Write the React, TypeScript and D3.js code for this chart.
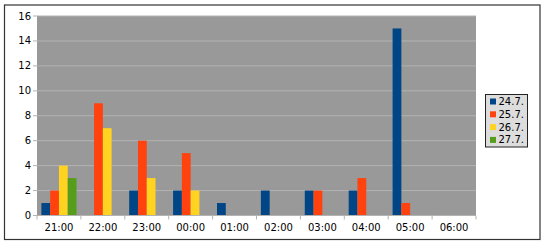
import React from "react";
import * as d3 from "d3";

const categories = ["21:00", "22:00", "23:00", "00:00", "01:00", "02:00", "03:00", "04:00", "05:00", "06:00"];
const seriesNames = ["24.7.", "25.7.", "26.7.", "27.7."];
const s24 = [1, 0, 2, 2, 1, 2, 2, 2, 15, 0];
const s25 = [2, 9, 6, 5, 0, 0, 2, 3, 1, 0];
const s26 = [4, 7, 3, 2, 0, 0, 0, 0, 0, 0];
const s27 = [3, 0, 0, 0, 0, 0, 0, 0, 0, 0];
const yTicks = [0, 2, 4, 6, 8, 10, 12, 14, 16];
const colors = ["#004586", "#ff420e", "#ffd320", "#579d1c"];

const seriesValues = [s24, s25, s26, s27];

export default function App() {
  const W = 548, H = 248;
  const left = 37, right = 476, top = 16, bottom = 215.5;
  const x0 = d3.scaleBand<string>().domain(categories).range([left, right]).padding(0);
  const bw = x0.bandwidth();
  const x1 = d3.scaleBand<string>().domain(seriesNames).range([bw * 0.1, bw * 0.9]).padding(0);
  const y = d3.scaleLinear().domain([0, 16]).range([bottom, top]);
  const font = "DejaVu Sans, sans-serif";

  return (
    <svg width={W} height={H} style={{ position: "absolute", left: 0, top: 0, display: "block" }}>
      <rect x={0} y={0} width={W} height={H} fill="#ffffff" />
      <rect x={4.5} y={5} width={535.5} height={234.5} fill="#ffffff" stroke="#333333" strokeWidth={1.2} />
      <rect x={left} y={top} width={right - left} height={bottom - top} fill="#999999" />
      {yTicks.map((t) => (
        <g key={"g" + t}>
          <line x1={left} x2={right} y1={y(t)} y2={y(t)} stroke="#b3b3b3" strokeWidth={1} />
          <line x1={left - 4} x2={left} y1={y(t)} y2={y(t)} stroke="#b3b3b3" strokeWidth={1} />
          <text x={left - 6} y={y(t)} dy="0.35em" textAnchor="end" fontFamily={font} fontSize={10} fill="#000">
            {t}
          </text>
        </g>
      ))}
      {seriesValues.map((vals, si) =>
        vals.map((v, ci) =>
          v > 0 ? (
            <rect
              key={si + "-" + ci}
              x={(x0(categories[ci]) as number) + (x1(seriesNames[si]) as number)}
              y={y(v)}
              width={x1.bandwidth()}
              height={y(0) - y(v)}
              fill={colors[si]}
            />
          ) : null
        )
      )}
      <line x1={left} x2={right} y1={bottom} y2={bottom} stroke="#b3b3b3" strokeWidth={1} />
      {categories.map((c, i) => (
        <g key={"x" + c}>
          <line x1={(x0(c) as number)} x2={(x0(c) as number)} y1={bottom} y2={bottom + 4} stroke="#b3b3b3" strokeWidth={1} />
          <text x={(x0(c) as number) + bw / 2} y={bottom + 12} dy="0.35em" textAnchor="middle" fontFamily={font} fontSize={10} fill="#000">
            {c}
          </text>
        </g>
      ))}
      <line x1={right} x2={right} y1={bottom} y2={bottom + 4} stroke="#b3b3b3" strokeWidth={1} />
      <rect x={485.5} y={94.5} width={42} height={52.5} fill="#dddddd" stroke="#222222" strokeWidth={1} />
      {seriesNames.map((n, i) => (
        <g key={"l" + n}>
          <rect x={490} y={98.5 + i * 12.8} width={6} height={6} fill={colors[i]} />
          <text x={498.5} y={101.5 + i * 12.8} dy="0.35em" fontFamily={font} fontSize={10} fill="#000">
            {n}
          </text>
        </g>
      ))}
    </svg>
  );
}
